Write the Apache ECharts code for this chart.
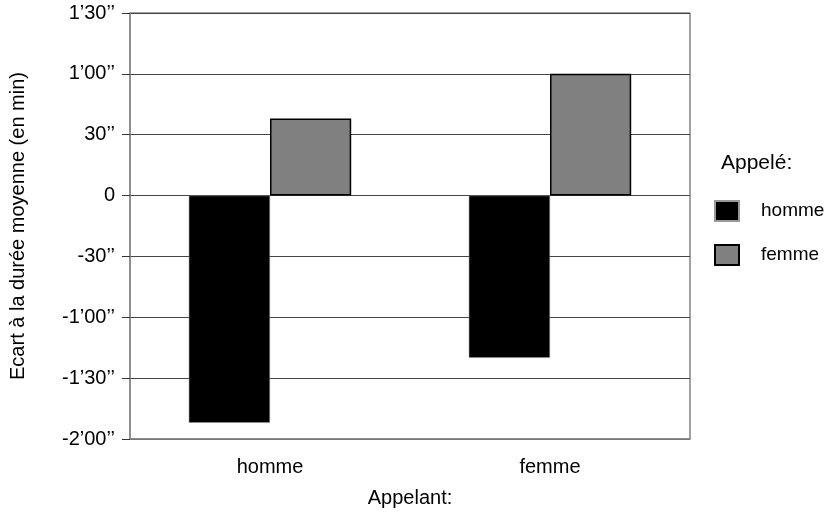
<!DOCTYPE html>
<html><head><meta charset="utf-8">
<script src="https://cdn.jsdelivr.net/npm/echarts@6/dist/echarts.min.js"></script>
<style>html,body{margin:0;padding:0;background:#fff}#c{width:828px;height:531px}</style>
</head><body><div id="c"></div>
<script>
// Data (values in seconds)
var categories = ['homme', 'femme'];            // Appelant
var seriesNames = ['homme', 'femme'];           // Appelé
var valuesHomme = [-112, -80];
var valuesFemme = [38, 60];
var yMin = -120, yMax = 90, yStep = 30;

function fmt(v) {
  if (v === 0) return '0';
  var sign = v < 0 ? '-' : '';
  var a = Math.abs(v), m = Math.floor(a / 60), s = a % 60;
  if (m > 0) return sign + m + '\u2019' + (s < 10 ? '0' + s : s) + '\u2019\u2019';
  return sign + s + '\u2019\u2019';
}

var font = 'Liberation Sans, Arial, sans-serif';
var chart = echarts.init(document.getElementById('c'), null, {renderer: 'canvas'});
chart.setOption({
  animation: false,
  backgroundColor: '#fff',
  textStyle: {fontFamily: font, color: '#000'},
  title: {text: 'Appelé:', left: 716, top: 148, textStyle: {fontFamily: font, fontSize: 21, fontWeight: 'normal', color: '#000'}},
  legend: {
    orient: 'vertical', left: 714, top: 200, padding: 0,
    itemWidth: 24, itemHeight: 20, itemGap: 22,
    icon: 'rect',
    textStyle: {fontFamily: font, fontSize: 19, color: '#000', padding: [0,0,0,17]},
    data: seriesNames
  },
  grid: {left: 129, right: 138, top: 13, bottom: 92, show: true, borderColor: '#444', borderWidth: 1},
  xAxis: {
    type: 'category', data: categories,
    name: 'Appelant:', nameLocation: 'middle', nameGap: 49,
    nameTextStyle: {fontFamily: font, fontSize: 20, color: '#000'},
    axisLine: {onZero: false, lineStyle: {color: '#888', width: 1.5}},
    axisTick: {show: false},
    axisLabel: {fontFamily: font, fontSize: 20, color: '#000', margin: 18}
  },
  yAxis: {
    type: 'value', min: yMin, max: yMax, interval: yStep,
    name: 'Ecart à la durée moyenne (en min)', nameLocation: 'middle', nameGap: 102,
    nameTextStyle: {fontFamily: font, fontSize: 20, color: '#000'},
    axisLine: {show: true, lineStyle: {color: '#888', width: 1.5}},
    axisTick: {show: true, length: 8, lineStyle: {color: '#333'}},
    axisLabel: {fontFamily: font, fontSize: 20, color: '#000', margin: 15, formatter: fmt},
    splitLine: {show: true, lineStyle: {color: '#444', width: 1}}
  },
  series: [
    {name: seriesNames[0], type: 'bar', data: valuesHomme, barWidth: '29%', barGap: '0%',
     itemStyle: {color: '#000', borderColor: '#999', borderWidth: 0.5}},
    {name: seriesNames[1], type: 'bar', data: valuesFemme, barWidth: '29%', barGap: '0%',
     itemStyle: {color: '#808080', borderColor: '#000', borderWidth: 1.5}}
  ]
});
</script></body></html>
